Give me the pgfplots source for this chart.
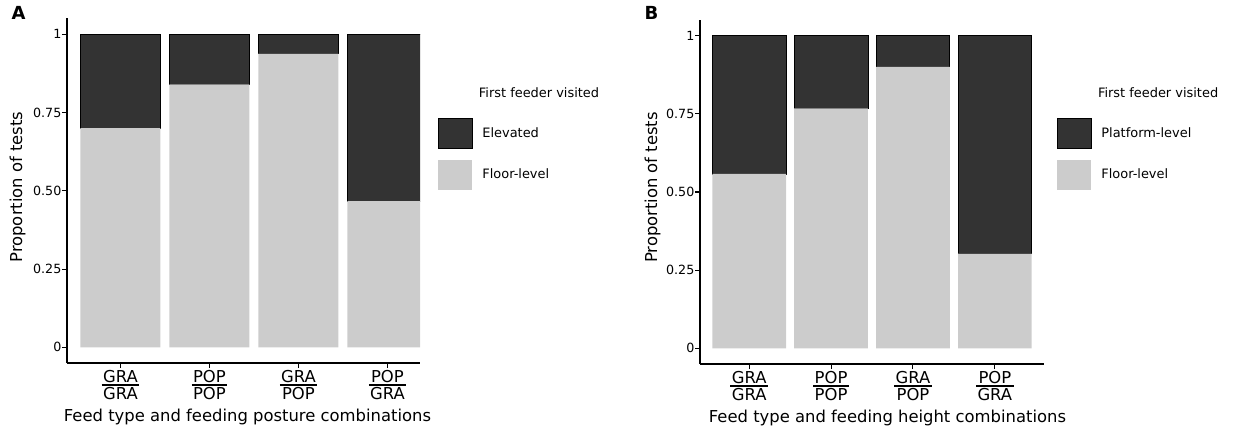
\documentclass[border=0pt]{standalone}
\usepackage{fontspec}
\setmainfont{DejaVu Sans}
\usepackage{pgfplots}
\pgfplotsset{compat=1.18}
\definecolor{darkbar}{HTML}{333333}
\definecolor{lightbar}{HTML}{CCCCCC}
\newcommand\fr[2]{\vbox{\offinterlineskip\halign{\hfil\kern1bp##\kern1bp\hfil\cr #1\cr\noalign{\kern1.2bp\hrule height 1bp\kern1.2bp}#2\cr}}}
\newcommand\tickfont{\fontsize{9.5bp}{11bp}\selectfont}
\newcommand\xtickfont{\fontsize{12.3bp}{14bp}\selectfont}
\newcommand\labfont{\fontsize{12.3bp}{14bp}\selectfont}
\newcommand\legfont{\fontsize{9.7bp}{11bp}\selectfont}
\pgfplotsset{
  panel/.style={
    scale only axis,
    ybar stacked, bar width=0.9,
    ymin=-0.05, ymax=1.05, xmin=0.4,
    axis x line=bottom, axis y line=left,
    axis line style={-, line width=1.1bp, black},
    tick align=outside, major tick length=3.75bp,
    tick style={black, line width=0.8bp},
    xtick={1,2,3,4}, ytick={0,0.25,0.5,0.75,1},
    yticklabels={0,0.25,0.50,0.75,1},
    xticklabels={\fr{GRA}{GRA},\fr{POP}{POP},\fr{GRA}{POP},\fr{POP}{GRA}},
    xticklabel style={font=\xtickfont, inner sep=0pt, anchor=north, yshift=-1.5bp},
    yticklabel style={font=\tickfont, inner sep=0pt, anchor=east, xshift=-0.3bp},
    ylabel={Proportion of tests},
    label style={font=\labfont, inner sep=0pt},
    legend cell align=left,
    legend style={draw=none, fill=none, inner sep=0pt, outer sep=0pt,
      row sep=8.25bp, column sep=7.3bp, nodes={inner sep=0pt}, font=\legfont},
    reverse legend,
    legend image code/.code={\path[#1] (0bp,-11.25bp) rectangle (25.5bp,11.25bp);},
    /pgf/number format/assume math mode=true,
  },
  floor/.style={fill=lightbar, draw=none},
  upper/.style={fill=darkbar, draw=black, line width=0.5bp},
}
\pgfplotstableread{
x floor upper
1 0.700 0.300
2 0.840 0.160
3 0.9375 0.0625
4 0.467 0.533
}\dataA
\pgfplotstableread{
x floor upper
1 0.558 0.442
2 0.767 0.233
3 0.900 0.100
4 0.303 0.697
}\dataB
\begin{document}
\begin{tikzpicture}
\path[use as bounding box] (0,0) rectangle (935.25bp,327.75bp);
\begin{axis}[panel, at={(50.25bp,55.5bp)}, anchor=south west,
  width=264.75bp, height=258.375bp, xmax=4.366,
  xlabel={Feed type and feeding posture combinations},
  xlabel style={at={(axis description cs:0.5113,-0.1704)}, anchor=base},
  ylabel style={at={(axis description cs:-0.1402,0.5109)}, anchor=center},
  legend style={at={(1.051,0.7112)}, anchor=north west}]
\addplot[floor] table[x=x, y=floor] {\dataA};
\addlegendentry{Floor-level}
\addplot[upper] table[x=x, y=upper] {\dataA};
\addlegendentry{Elevated}
\end{axis}
\begin{axis}[panel, at={(525bp,54.75bp)}, anchor=south west,
  width=258bp, height=258bp, xmax=4.6,
  xlabel={Feed type and feeding height combinations},
  xlabel style={at={(axis description cs:0.545,-0.1706)}, anchor=base},
  ylabel style={at={(axis description cs:-0.1381,0.5131)}, anchor=center},
  legend style={at={(1.0378,0.7151)}, anchor=north west}]
\addplot[floor] table[x=x, y=floor] {\dataB};
\addlegendentry{Floor-level}
\addplot[upper] table[x=x, y=upper] {\dataB};
\addlegendentry{Platform-level}
\end{axis}
\node[anchor=base west, inner sep=0pt, font=\bfseries\fontsize{13.5bp}{15bp}\selectfont] at (8.5bp,312.75bp) {A};
\node[anchor=base west, inner sep=0pt, font=\bfseries\fontsize{13.5bp}{15bp}\selectfont] at (483.3bp,312.75bp) {B};
\node[anchor=base west, inner sep=0pt, font=\legfont] at (359bp,254.8bp) {First feeder visited};
\node[anchor=base west, inner sep=0pt, font=\legfont] at (823.3bp,254.8bp) {First feeder visited};
\end{tikzpicture}
\end{document}
